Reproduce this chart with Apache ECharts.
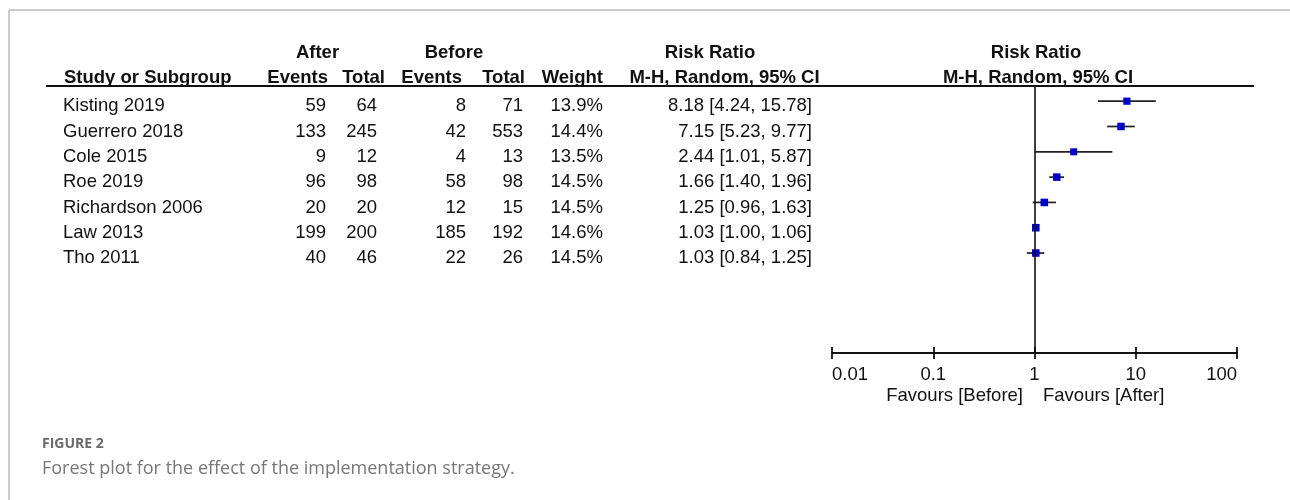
<!DOCTYPE html>
<html>
<head>
<meta charset="utf-8">
<script src="https://cdn.jsdelivr.net/npm/echarts@6/dist/echarts.min.js"></script>
<style>
html,body{margin:0;padding:0;background:#fff;}
#chart{width:1290px;height:500px;}
</style>
</head>
<body>
<div id="chart"></div>
<script>
const studies = ['Kisting 2019','Guerrero 2018','Cole 2015','Roe 2019','Richardson 2006','Law 2013','Tho 2011'];
const afterEvents = [59,133,9,96,20,199,40];
const afterTotal = [64,245,12,98,20,200,46];
const beforeEvents = [8,42,4,58,12,185,22];
const beforeTotal = [71,553,13,98,15,192,26];
const weights = [13.9,14.4,13.5,14.5,14.5,14.6,14.5];
const riskRatio = [8.18,7.15,2.44,1.66,1.25,1.03,1.03];
const ciLower = [4.24,5.23,1.01,1.40,0.96,1.00,0.84];
const ciUpper = [15.78,9.77,5.87,1.96,1.63,1.06,1.25];
const tickLabels = ['0.01','0.1','1','10','100'];

const FONT = "'Liberation Sans', Arial, sans-serif";
const FS = 18.5;
const INK = '#111';

const columns = [
  {x: 63,  align: 'left',  get: i => studies[i]},
  {x: 326, align: 'right', get: i => String(afterEvents[i])},
  {x: 377, align: 'right', get: i => String(afterTotal[i])},
  {x: 466, align: 'right', get: i => String(beforeEvents[i])},
  {x: 523, align: 'right', get: i => String(beforeTotal[i])},
  {x: 603, align: 'right', get: i => weights[i].toFixed(1) + '%'},
  {x: 812, align: 'right', get: i => riskRatio[i].toFixed(2) + ' [' + ciLower[i].toFixed(2) + ', ' + ciUpper[i].toFixed(2) + ']'}
];

const tableData = studies.map((s, i) => [1, i]);
const forestData = studies.map((s, i) => [riskRatio[i], ciLower[i], ciUpper[i], i, weights[i]]);

function hText(text, x, y, align, bold) {
  return {type: 'text', x: x, y: y, silent: true,
    style: {text: text, fill: INK, fontFamily: FONT, fontSize: FS, fontWeight: bold ? 'bold' : 'normal',
            textAlign: align, textVerticalAlign: 'middle'}};
}

const GRID_TOP = 86, GRID_BOTTOM = 147;
const GRID_H = 500 - GRID_TOP - GRID_BOTTOM;

const chart = echarts.init(document.getElementById('chart'), null, {renderer: 'canvas'});
chart.setOption({
  backgroundColor: '#fff',
  animation: false,
  grid: [{left: 832, right: 53, top: GRID_TOP, bottom: GRID_BOTTOM}],
  xAxis: [
    {type: 'log', logBase: 10, min: 0.01, max: 100, gridIndex: 0, position: 'bottom',
     axisLine: {show: true, onZero: false, lineStyle: {color: INK, width: 1.8}},
     axisTick: {show: true, inside: false, length: 6, lineStyle: {color: INK, width: 1.8}},
     minorTick: {show: false}, splitLine: {show: false},
     axisLabel: {show: true, margin: 12, color: INK, fontFamily: FONT, fontSize: FS,
       alignMinLabel: 'left', alignMaxLabel: 'right',
       formatter: v => tickLabels[Math.round(Math.log10(v)) + 2]}},
    {type: 'log', logBase: 10, min: 0.01, max: 100, gridIndex: 0, position: 'top', offset: -GRID_H,
     axisLine: {show: false, onZero: false},
     axisTick: {show: true, inside: false, length: 6, lineStyle: {color: INK, width: 1.8}},
     minorTick: {show: false},
     axisLabel: {show: false}, splitLine: {show: false}}
  ],
  yAxis: [{type: 'value', gridIndex: 0, inverse: true, min: -0.6, max: 9.95, show: false}],
  series: [
    {
      type: 'custom', xAxisIndex: 0, yAxisIndex: 0, clip: false, silent: true,
      data: forestData,
      renderItem: function (params, api) {
        const i = api.value(3);
        const p = api.coord([api.value(0), i]);
        const l = api.coord([api.value(1), i]);
        const u = api.coord([api.value(2), i]);
        const s = api.value(4) * 0.52;
        return {type: 'group', children: [
          {type: 'line', shape: {x1: l[0], y1: p[1], x2: u[0], y2: p[1]}, style: {stroke: '#222', lineWidth: 1.7}},
          {type: 'rect', shape: {x: p[0] - s / 2, y: p[1] - s / 2, width: s, height: s}, style: {fill: '#0000c8'}}
        ]};
      },
      markLine: {
        silent: true, symbol: 'none', label: {show: false},
        lineStyle: {color: INK, width: 1.6, type: 'solid'},
        data: [{xAxis: 1}]
      }
    },
    {
      type: 'custom', xAxisIndex: 0, yAxisIndex: 0, clip: false, silent: true,
      data: tableData,
      renderItem: function (params, api) {
        const i = api.value(1);
        const y = api.coord([1, i])[1] + 5;
        return {type: 'group', children: columns.map(c => ({
          type: 'text', x: c.x, y: y,
          style: {text: c.get(i), fill: INK, fontFamily: FONT, fontSize: FS, textAlign: c.align, textVerticalAlign: 'middle'}
        }))};
      }
    }
  ],
  graphic: [
    {type: 'line', silent: true, shape: {x1: 9, y1: 10, x2: 1290, y2: 10}, style: {stroke: '#bdbdbd', lineWidth: 1.5}},
    {type: 'line', silent: true, shape: {x1: 9, y1: 10, x2: 9, y2: 500}, style: {stroke: '#bdbdbd', lineWidth: 1.5}},
    {type: 'line', silent: true, shape: {x1: 46, y1: 86, x2: 1254, y2: 86}, style: {stroke: INK, lineWidth: 2}},
    hText('After', 317.5, 53, 'center', true),
    hText('Before', 454, 53, 'center', true),
    hText('Risk Ratio', 710, 53, 'center', true),
    hText('Risk Ratio', 1036, 53, 'center', true),
    hText('Study or Subgroup', 64, 78, 'left', true),
    hText('Events', 328, 78, 'right', true),
    hText('Total', 385, 78, 'right', true),
    hText('Events', 462, 78, 'right', true),
    hText('Total', 525, 78, 'right', true),
    hText('Weight', 603, 78, 'right', true),
    hText('M-H, Random, 95% CI', 724.5, 78, 'center', true),
    hText('M-H, Random, 95% CI', 1038, 78, 'center', true),
    hText('Favours [Before]', 1023, 396, 'right', false),
    hText('Favours [After]', 1043, 396, 'left', false),
    {type: 'text', x: 42, y: 444, silent: true,
     style: {text: 'FIGURE 2', fill: '#6a6a6a', fontFamily: "'Open Sans', Lato, sans-serif", fontSize: 14, fontWeight: 'bold',
             textAlign: 'left', textVerticalAlign: 'middle'}},
    {type: 'text', x: 42, y: 469, silent: true,
     style: {text: 'Forest plot for the effect of the implementation strategy.', fill: '#777', fontFamily: "'Open Sans', Lato, sans-serif", fontSize: 18,
             textAlign: 'left', textVerticalAlign: 'middle'}}
  ]
});
</script>
</body>
</html>
